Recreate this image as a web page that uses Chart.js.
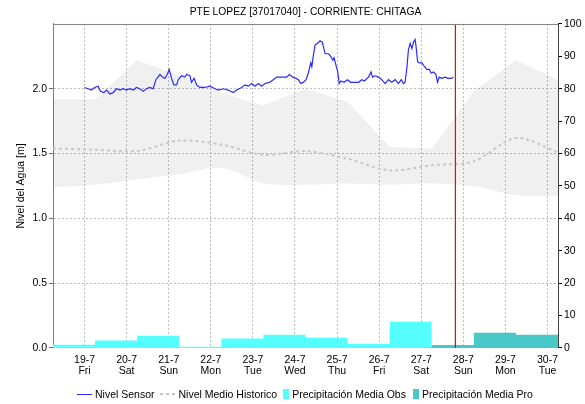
<!DOCTYPE html>
<html lang="es">
<head>
<meta charset="UTF-8">
<title>PTE LOPEZ [37017040] - CORRIENTE: CHITAGA</title>
<script src="https://cdn.jsdelivr.net/npm/chart.js"></script>
<style>
  html, body { margin: 0; padding: 0; background: #fff; }
  .caja { position: relative; width: 585px; height: 404px; }
  .leyenda {
    position: absolute; left: 77px; top: 388px; height: 12px;
    display: flex; align-items: center;
    font: 10.5px "Liberation Sans", Arial, sans-serif; color: #000; white-space: nowrap;
  }
  .leyenda i { display: inline-block; margin-right: 3px; }
  .leyenda b { font-weight: normal; }
  .l-sensor { width: 15px; height: 0; border-top: 1.5px solid #2a2aff; }
  .l-medio { width: 16px; height: 2px; background: repeating-linear-gradient(to right, #c4c4c4 0 3px, transparent 3px 6px); }
  .l-obs { width: 6px; height: 10px; background: #55ffff; }
  .l-pro { width: 6px; height: 10px; background: #48c8c8; }
</style>
</head>
<body>
<div class="caja">
  <canvas id="grafico"></canvas>
  <div class="leyenda">
    <i class="l-sensor"></i><b style="margin-right:5px">Nivel Sensor</b>
    <i class="l-medio"></i><b style="margin-right:6px">Nivel Medio Historico</b>
    <i class="l-obs"></i><b style="margin-right:7px">Precipitación Media Obs</b>
    <i class="l-pro"></i><b>Precipitación Media Pro</b>
  </div>
</div>

<script>
  const titulo = 'PTE LOPEZ [37017040] - CORRIENTE: CHITAGA';

  // eje x en horas desde 19-7 00:00
  const dias = ['19-7', '20-7', '21-7', '22-7', '23-7', '24-7', '25-7', '26-7', '27-7', '28-7', '29-7', '30-7'];
  const diasSemana = ['Fri', 'Sat', 'Sun', 'Mon', 'Tue', 'Wed', 'Thu', 'Fri', 'Sat', 'Sun', 'Mon', 'Tue'];
  const horasDia = [0, 24, 48, 72, 96, 120, 144, 168, 192, 216, 240, 264];
  const horaInicio = -18;
  const horaFin = 270;

  // nivel del sensor [m]
  const sensorHora = [
    0, 2, 3.9, 5.8, 7.7, 9.1, 11, 12.5, 14.4, 16.3, 18.2, 20.1, 22, 23.9,
    25.8, 27.7, 29.6, 31.5, 33.4, 35.3, 37.2, 39.1, 40.7, 43, 44.5, 45.8, 47.1, 48.3,
    49.6, 50.9, 52.5, 53.4, 55.3, 57.2, 58.2, 60.1, 61, 62.5, 63.9, 65.8, 68.6, 71.5,
    74.4, 76.2, 79.1, 81.9, 84.8, 86.7, 89.6, 91.5, 93.4, 95.3, 97.2, 99.1, 101, 102.9,
    105.7, 107.6, 109.6, 111.5, 113.3, 115.3, 116.8, 118.7, 120.6, 121.9, 123.3, 124.8, 126.3, 127.6,
    129, 129.6, 130.5, 131.5, 132.8, 134.3, 135.6, 137.2, 139.1, 140.4, 141.6, 142.3, 143.4, 144.4,
    145.2, 146.3, 148, 149.9, 151.8, 154.3, 156.2, 158.1, 159.6, 161.9, 163.4, 164.2, 165.7, 167.6,
    169.5, 171.4, 173.3, 175.2, 177.1, 179, 180.6, 181.9, 182.8, 183.8, 184.7, 185.7, 186.7, 187.6,
    188.5, 189.1, 189.9, 190.8, 192.4, 193.9, 195.2, 196.6, 197.7, 199, 200.4, 201.3, 202.3, 203.8,
    205.7, 207.2, 209.1, 210.4
  ];
  const sensorNivel = [
    2.01, 2.00, 1.99, 2.01, 2.02, 1.98, 1.97, 1.99, 1.96, 1.97, 2.00, 1.99, 2.00, 1.99,
    2.00, 1.99, 2.01, 2.00, 1.98, 2.00, 2.01, 2.00, 2.07, 2.11, 2.09, 2.08, 2.11, 2.15,
    2.08, 2.03, 2.03, 2.07, 2.10, 2.09, 2.11, 2.10, 2.05, 2.08, 2.03, 2.01, 2.01, 2.02,
    2.00, 1.99, 2.00, 1.99, 1.97, 1.99, 2.01, 2.03, 2.02, 2.04, 2.02, 2.04, 2.02, 2.04,
    2.05, 2.07, 2.09, 2.09, 2.09, 2.09, 2.11, 2.09, 2.08, 2.07, 2.04, 2.05, 2.07, 2.12,
    2.20, 2.17, 2.26, 2.34, 2.35, 2.37, 2.36, 2.27, 2.27, 2.25, 2.22, 2.24, 2.18, 2.13,
    2.04, 2.06, 2.05, 2.07, 2.05, 2.05, 2.05, 2.07, 2.06, 2.09, 2.13, 2.09, 2.10, 2.09,
    2.07, 2.04, 2.07, 2.05, 2.07, 2.04, 2.07, 2.04, 2.05, 2.16, 2.30, 2.35, 2.31, 2.36,
    2.38, 2.32, 2.21, 2.20, 2.20, 2.17, 2.15, 2.15, 2.12, 2.13, 2.11, 2.05, 2.09, 2.08,
    2.09, 2.08, 2.08, 2.09
  ];

  // histórico diario (06:00): máximo, mínimo y medio [m]
  const histHora = [-18, 6, 30, 54, 78, 102, 126, 150, 174, 198, 222, 246, 270];
  const histMax = [1.92, 1.92, 2.22, 2.10, 1.97, 1.87, 2.00, 1.90, 1.55, 1.54, 1.98, 2.22, 2.07];
  const histMin = [1.24, 1.26, 1.30, 1.34, 1.39, 1.27, 1.26, 1.27, 1.26, 1.27, 1.25, 1.18, 1.17];
  const histMedio = [1.54, 1.53, 1.52, 1.60, 1.57, 1.49, 1.52, 1.46, 1.37, 1.41, 1.44, 1.62, 1.51];

  // precipitación diaria [mm], cada barra empieza a las 06:00 del día anterior
  const precipInicioObs = [-18, 6, 30, 54, 78, 102, 126, 150, 174];
  const precipObs = [1.0, 2.3, 3.8, 0.4, 2.9, 4.1, 3.2, 1.3, 8.1];
  const precipInicioPro = [198, 222, 246];
  const precipPro = [0.9, 4.7, 4.1];

  const horaActual = 211.5;

  Chart.defaults.font.family = '"Liberation Sans", Arial, sans-serif';
  Chart.defaults.font.size = 10.5;
  Chart.defaults.color = '#000';

  const pares = (xs, ys) => ys.map((y, i) => ({ x: xs[i], y: y }));

  function escalones(inicios, valores, fin) {
    const pts = pares(inicios, valores);
    pts.push({ x: fin, y: valores[valores.length - 1] });
    return pts;
  }

  // marco superior del área de gráfico
  const bordeSuperior = {
    id: 'bordeSuperior',
    afterDraw(chart) {
      const { ctx, chartArea: a } = chart;
      ctx.save();
      ctx.strokeStyle = '#808080';
      ctx.lineWidth = 1;
      ctx.beginPath();
      ctx.moveTo(a.left, a.top + 0.5);
      ctx.lineTo(a.right, a.top + 0.5);
      ctx.stroke();
      ctx.restore();
    }
  };

  const colorGrid = '#bdbdbd';
  const sinBorde = { borderWidth: 0, borderColor: 'transparent', pointRadius: 0 };

  new Chart(document.getElementById('grafico'), {
    type: 'line',
    data: {
      datasets: [
        {
          label: 'Ahora',
          data: [{ x: horaActual, y: 0 }, { x: horaActual, y: 2.5 }],
          borderColor: '#ff0000',
          borderWidth: 1.2,
          pointRadius: 0,
          yAxisID: 'y'
        },
        {
          label: 'Nivel Sensor',
          data: pares(sensorHora, sensorNivel),
          borderColor: '#2a2aff',
          borderWidth: 1.2,
          pointRadius: 0,
          tension: 0,
          yAxisID: 'y'
        },
        {
          label: 'Nivel Medio Historico',
          data: pares(histHora, histMedio),
          borderColor: '#c8c8c8',
          borderWidth: 2,
          borderDash: [3, 3],
          pointRadius: 0,
          tension: 0.3,
          yAxisID: 'y'
        },
        {
          ...sinBorde,
          label: 'Máximo',
          data: pares(histHora, histMax),
          backgroundColor: 'rgba(0,0,0,0.06)',
          fill: '+1',
          yAxisID: 'y'
        },
        {
          ...sinBorde,
          label: 'Mínimo',
          data: pares(histHora, histMin),
          tension: 0.3,
          yAxisID: 'y'
        },
        {
          ...sinBorde,
          label: 'Precipitación Media Obs',
          data: escalones(precipInicioObs, precipObs, precipInicioPro[0]),
          stepped: 'before',
          backgroundColor: '#55ffff',
          fill: 'origin',
          yAxisID: 'yR'
        },
        {
          ...sinBorde,
          label: 'Precipitación Media Pro',
          data: escalones(precipInicioPro, precipPro, horaFin),
          stepped: 'before',
          backgroundColor: '#48c8c8',
          fill: 'origin',
          yAxisID: 'yR'
        }
      ]
    },
    options: {
      responsive: true,
      maintainAspectRatio: false,
      animation: false,
      events: [],
      layout: { padding: { top: 0, bottom: 30, left: 0, right: 0 } },
      plugins: {
        legend: { display: false },
        tooltip: { enabled: false },
        title: {
          display: true,
          text: titulo,
          fullSize: false,
          color: '#000',
          font: { size: 10.3, weight: 'normal', lineHeight: 1.2 },
          padding: { top: 6, bottom: 5.6 }
        }
      },
      scales: {
        x: {
          type: 'linear',
          min: horaInicio,
          max: horaFin,
          afterBuildTicks: (scale) => {
            scale.ticks = horasDia.map(v => ({ value: v }));
          },
          afterFit: (scale) => { scale.height = 26; },
          ticks: {
            autoSkip: false,
            maxRotation: 0,
            padding: 7,
            font: { size: 10.5, lineHeight: 1.05 },
            callback: (v) => {
              const i = horasDia.indexOf(v);
              return [dias[i], diasSemana[i]];
            }
          },
          grid: { color: colorGrid, drawTicks: false },
          border: { display: false, dash: [2, 2] }
        },
        y: {
          position: 'left',
          min: 0,
          max: 2.5,
          afterBuildTicks: (scale) => {
            scale.ticks = [0, 0.5, 1.0, 1.5, 2.0].map(v => ({ value: v }));
          },
          afterFit: (scale) => { scale.width = 53; },
          ticks: {
            padding: 2,
            callback: (v) => v.toFixed(1)
          },
          title: {
            display: true,
            text: 'Nivel del Agua [m]',
            font: { size: 10.5 },
            padding: { top: 15, bottom: 0 }
          },
          grid: {
            color: (c) => (c.tick && c.tick.value === 0 ? '#707070' : colorGrid),
            tickLength: 4,
            tickColor: '#707070'
          },
          border: { color: '#808080', dash: [2, 2] }
        },
        yR: {
          position: 'right',
          min: 0,
          max: 100,
          afterFit: (scale) => { scale.width = 27; },
          ticks: { stepSize: 10, padding: 2 },
          grid: { drawOnChartArea: false, tickLength: 4, tickColor: '#000' },
          border: { color: '#404040' }
        }
      }
    },
    plugins: [bordeSuperior]
  });
</script>
</body>
</html>
